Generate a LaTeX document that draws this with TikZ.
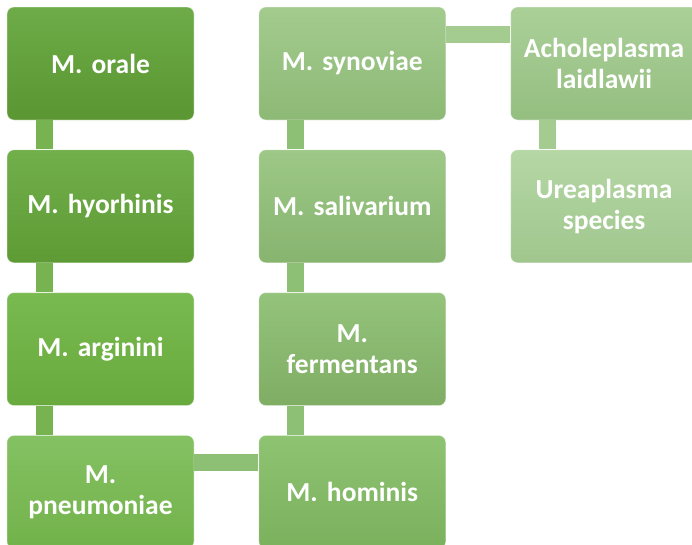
\documentclass[tikz,border=0pt]{standalone}
\usepackage{fontspec}
\setmainfont{Carlito}
\usepackage{xcolor}
\usepackage{tikz}
\usetikzlibrary{positioning}
\frenchspacing
\definecolor{oraleT}{HTML}{6DAC48}
\definecolor{oraleB}{HTML}{5A9631}
\definecolor{hyorT}{HTML}{71AF4B}
\definecolor{hyorB}{HTML}{5E9B35}
\definecolor{argT}{HTML}{79BA50}
\definecolor{argB}{HTML}{68AA3D}
\definecolor{pneuT}{HTML}{84C163}
\definecolor{pneuB}{HTML}{72B24A}
\definecolor{homT}{HTML}{8EC372}
\definecolor{homB}{HTML}{7BB05D}
\definecolor{fermT}{HTML}{94C37B}
\definecolor{fermB}{HTML}{7FAD64}
\definecolor{saliT}{HTML}{9DC887}
\definecolor{saliB}{HTML}{87B46F}
\definecolor{synT}{HTML}{A3CB8E}
\definecolor{synB}{HTML}{8DB976}
\definecolor{acholT}{HTML}{AAD098}
\definecolor{acholB}{HTML}{95BE81}
\definecolor{ureaT}{HTML}{B5D7A5}
\definecolor{ureaB}{HTML}{A0C68D}
\definecolor{barA}{HTML}{78B352}
\definecolor{barB}{HTML}{8DBF74}
\definecolor{barC}{HTML}{A4CB90}

\tikzset{
  species/.style={rounded corners=7pt, inner sep=0pt,
    minimum width=187pt, minimum height=113pt, text width=184pt,
    align=center, text=white, draw=white, draw opacity=0.45, line width=0.8pt,
    font=\bfseries\fontsize{27.5}{31}\selectfont},
  link/.style={line width=17pt}
}

\begin{document}
\begin{tikzpicture}
  \useasboundingbox (0,0) rectangle (692pt,-544pt);

  % first column
  \node[species, top color=oraleT, bottom color=oraleB] (orale) at (100.5pt,-63.5pt) {M. orale};
  \node[species, top color=hyorT, bottom color=hyorB, below=29pt of orale] (hyorhinis) {M. hyorhinis};
  \node[species, top color=argT, bottom color=argB, below=29pt of hyorhinis] (arginini) {M. arginini};
  \node[species, top color=pneuT, bottom color=pneuB, below=29pt of arginini] (pneumoniae) {M.\\pneumoniae};

  % second column
  \node[species, top color=synT, bottom color=synB, right=64pt of orale] (synoviae) {M. synoviae};
  \node[species, top color=saliT, bottom color=saliB, below=29pt of synoviae] (salivarium) {M. salivarium};
  \node[species, top color=fermT, bottom color=fermB, below=29pt of salivarium] (fermentans) {M.\\fermentans};
  \node[species, top color=homT, bottom color=homB, below=29pt of fermentans] (hominis) {M. hominis};

  % third column
  \node[species, top color=acholT, bottom color=acholB, right=64pt of synoviae] (acholeplasma) {Acholeplasma\\laidlawii};
  \node[species, top color=ureaT, bottom color=ureaB, below=29pt of acholeplasma] (ureaplasma) {Ureaplasma\\species};

  % connecting bars
  \draw[link, barA] ([xshift=37.5pt]orale.south west) -- ([xshift=37.5pt]hyorhinis.north west);
  \draw[link, barA] ([xshift=37.5pt]hyorhinis.south west) -- ([xshift=37.5pt]arginini.north west);
  \draw[link, barA] ([xshift=37.5pt]arginini.south west) -- ([xshift=37.5pt]pneumoniae.north west);
  \draw[link, barB] ([yshift=-27.5pt]pneumoniae.north east) -- ([yshift=-27.5pt]hominis.north west);
  \draw[link, barB] ([xshift=37.5pt]hominis.north west) -- ([xshift=37.5pt]fermentans.south west);
  \draw[link, barB] ([xshift=37.5pt]fermentans.north west) -- ([xshift=37.5pt]salivarium.south west);
  \draw[link, barB] ([xshift=37.5pt]salivarium.north west) -- ([xshift=37.5pt]synoviae.south west);
  \draw[link, barC] ([yshift=-27.5pt]synoviae.north east) -- ([yshift=-27.5pt]acholeplasma.north west);
  \draw[link, barC] ([xshift=37.5pt]acholeplasma.south west) -- ([xshift=37.5pt]ureaplasma.north west);
\end{tikzpicture}
\end{document}
